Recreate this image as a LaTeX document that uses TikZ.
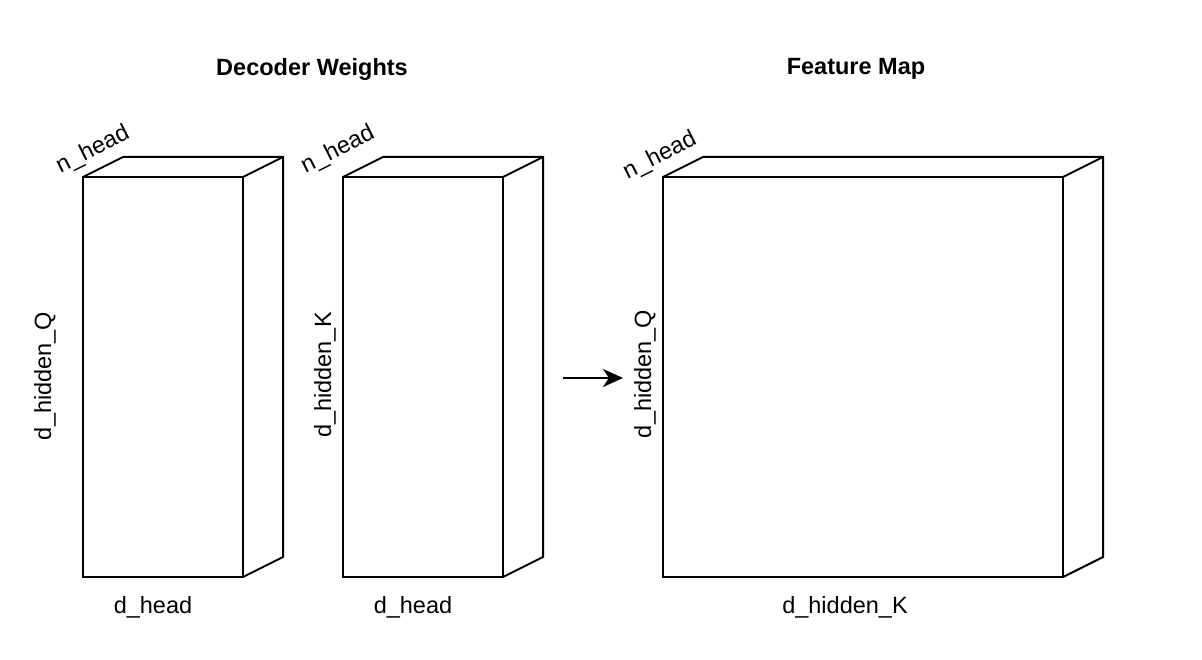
\documentclass[tikz,border=0pt]{standalone}
\usepackage{fontspec}
\setmainfont{Liberation Sans}
\usetikzlibrary{calc,arrows.meta}
\begin{document}
\begin{tikzpicture}[x=1pt,y=-1pt,
  face/.style={draw,line width=2pt,rectangle,inner sep=0pt,outer sep=0pt},
  edge/.style={line width=2pt,line join=miter},
  lbl/.style={font=\fontsize{23.5}{28}\selectfont,inner sep=0pt},
  ttl/.style={font=\fontsize{23.5}{28}\selectfont\bfseries,inner sep=0pt},
  arr/.style={line width=2pt,-{Stealth[length=20pt,width=18pt,inset=6pt]}}]
\useasboundingbox[fill=white] (0,0) rectangle (1202,660);
% titles
\node[ttl] (t1) at (312,69) {Decoder Weights};
\node[ttl] (t2) at (856,69) {Feature Map};
% boxes
\node[face,minimum width=160pt,minimum height=400pt] (w1) at (163,377) {};
\node[face,minimum width=160pt,minimum height=400pt] (w2) at (423,377) {};
\node[face,minimum width=400pt,minimum height=400pt] (fm) at (863,377) {};
\foreach \b in {w1,w2,fm}{
  \draw[edge] (\b.north west) -- ++(40,-20) -| ($(\b.south east)+(40,-20)$) -- (\b.south east);
  \draw[edge] (\b.north east) -- ++(40,-20);
}
% arrow
\coordinate (as) at (563,378);
\coordinate (ae) at (623,378);
\draw[arr] (as) -- (ae);
% labels
\node[lbl,rotate=26.57] (n1) at (93,150) {n\_head};
\node[lbl,rotate=26.57] (n2) at (338,150) {n\_head};
\node[lbl,rotate=26.57] (n3) at (660,156) {n\_head};
\node[lbl,rotate=90] (q1) at (45,376) {d\_hidden\_Q};
\node[lbl,rotate=90] (k1) at (325,375) {d\_hidden\_K};
\node[lbl,rotate=90] (q2) at (645,374) {d\_hidden\_Q};
\node[lbl] (h1) at (153,607) {d\_head};
\node[lbl] (h2) at (413,607) {d\_head};
\node[lbl] (h3) at (845,607) {d\_hidden\_K};
\end{tikzpicture}
\end{document}
